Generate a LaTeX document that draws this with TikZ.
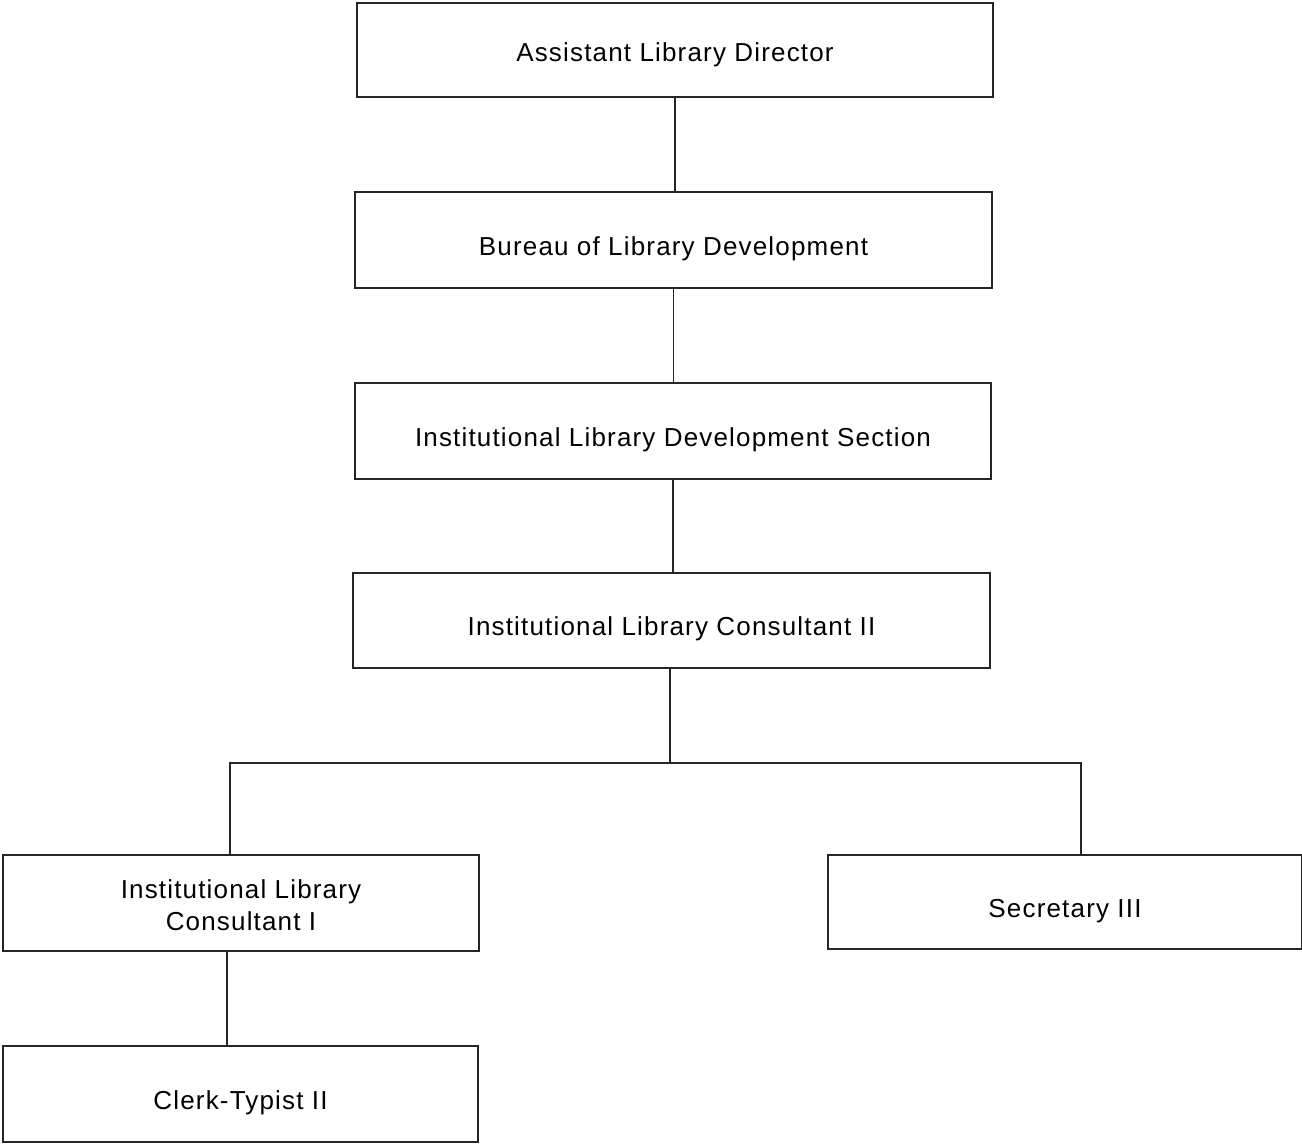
\documentclass[tikz,border=0pt]{standalone}
\usepackage{fontspec}
\setmainfont[LetterSpace=4.5]{Liberation Sans}
\begin{document}
\begin{tikzpicture}[x=1pt,y=1pt,
  box/.style={draw=black!85, line width=1.1pt, rectangle, inner sep=0pt, align=center, font=\fontsize{26}{32}\selectfont, text=black, text depth=0pt, text height=30pt},
  link/.style={draw=black!85, line width=1.1pt}]
\useasboundingbox (0,0) rectangle (1302,-1145);
\node[box, minimum width=636, minimum height=94, text height=24pt] (a) at (675,-50) {Assistant Library Director};
\node[box, minimum width=637, minimum height=96] (b) at (673.5,-240) {Bureau of Library Development};
\node[box, minimum width=636, minimum height=96] (c) at (673,-431) {Institutional Library Development Section};
\node[box, minimum width=637, minimum height=95] (d) at (671.5,-620.5) {Institutional Library Consultant II};
\node[box, minimum width=476, minimum height=96, text height=54pt] (e) at (241,-903) {Institutional Library\\Consultant I};
\node[box, minimum width=474, minimum height=94] (f) at (1065,-902) {Secretary III};
\node[box, minimum width=475, minimum height=96] (g) at (240.5,-1094) {Clerk-Typist II};
\coordinate (bus) at (670,-763);
\coordinate (busL) at (230,-763);
\coordinate (busR) at (1081,-763);
\coordinate (k) at (227,-1000);
\draw[link] (a.south) -- (a.south |- b.north);
\draw[link] (b.south) -- (b.south |- c.north);
\draw[link] (c.south) -- (c.south |- d.north);
\draw[link] (d.south -| bus) -- (bus);
\draw[link] (e.north -| busL) -- (busL) -- (busR) -- (f.north -| busR);
\draw[link] (e.south -| k) -- (g.north -| k);
\end{tikzpicture}
\end{document}
